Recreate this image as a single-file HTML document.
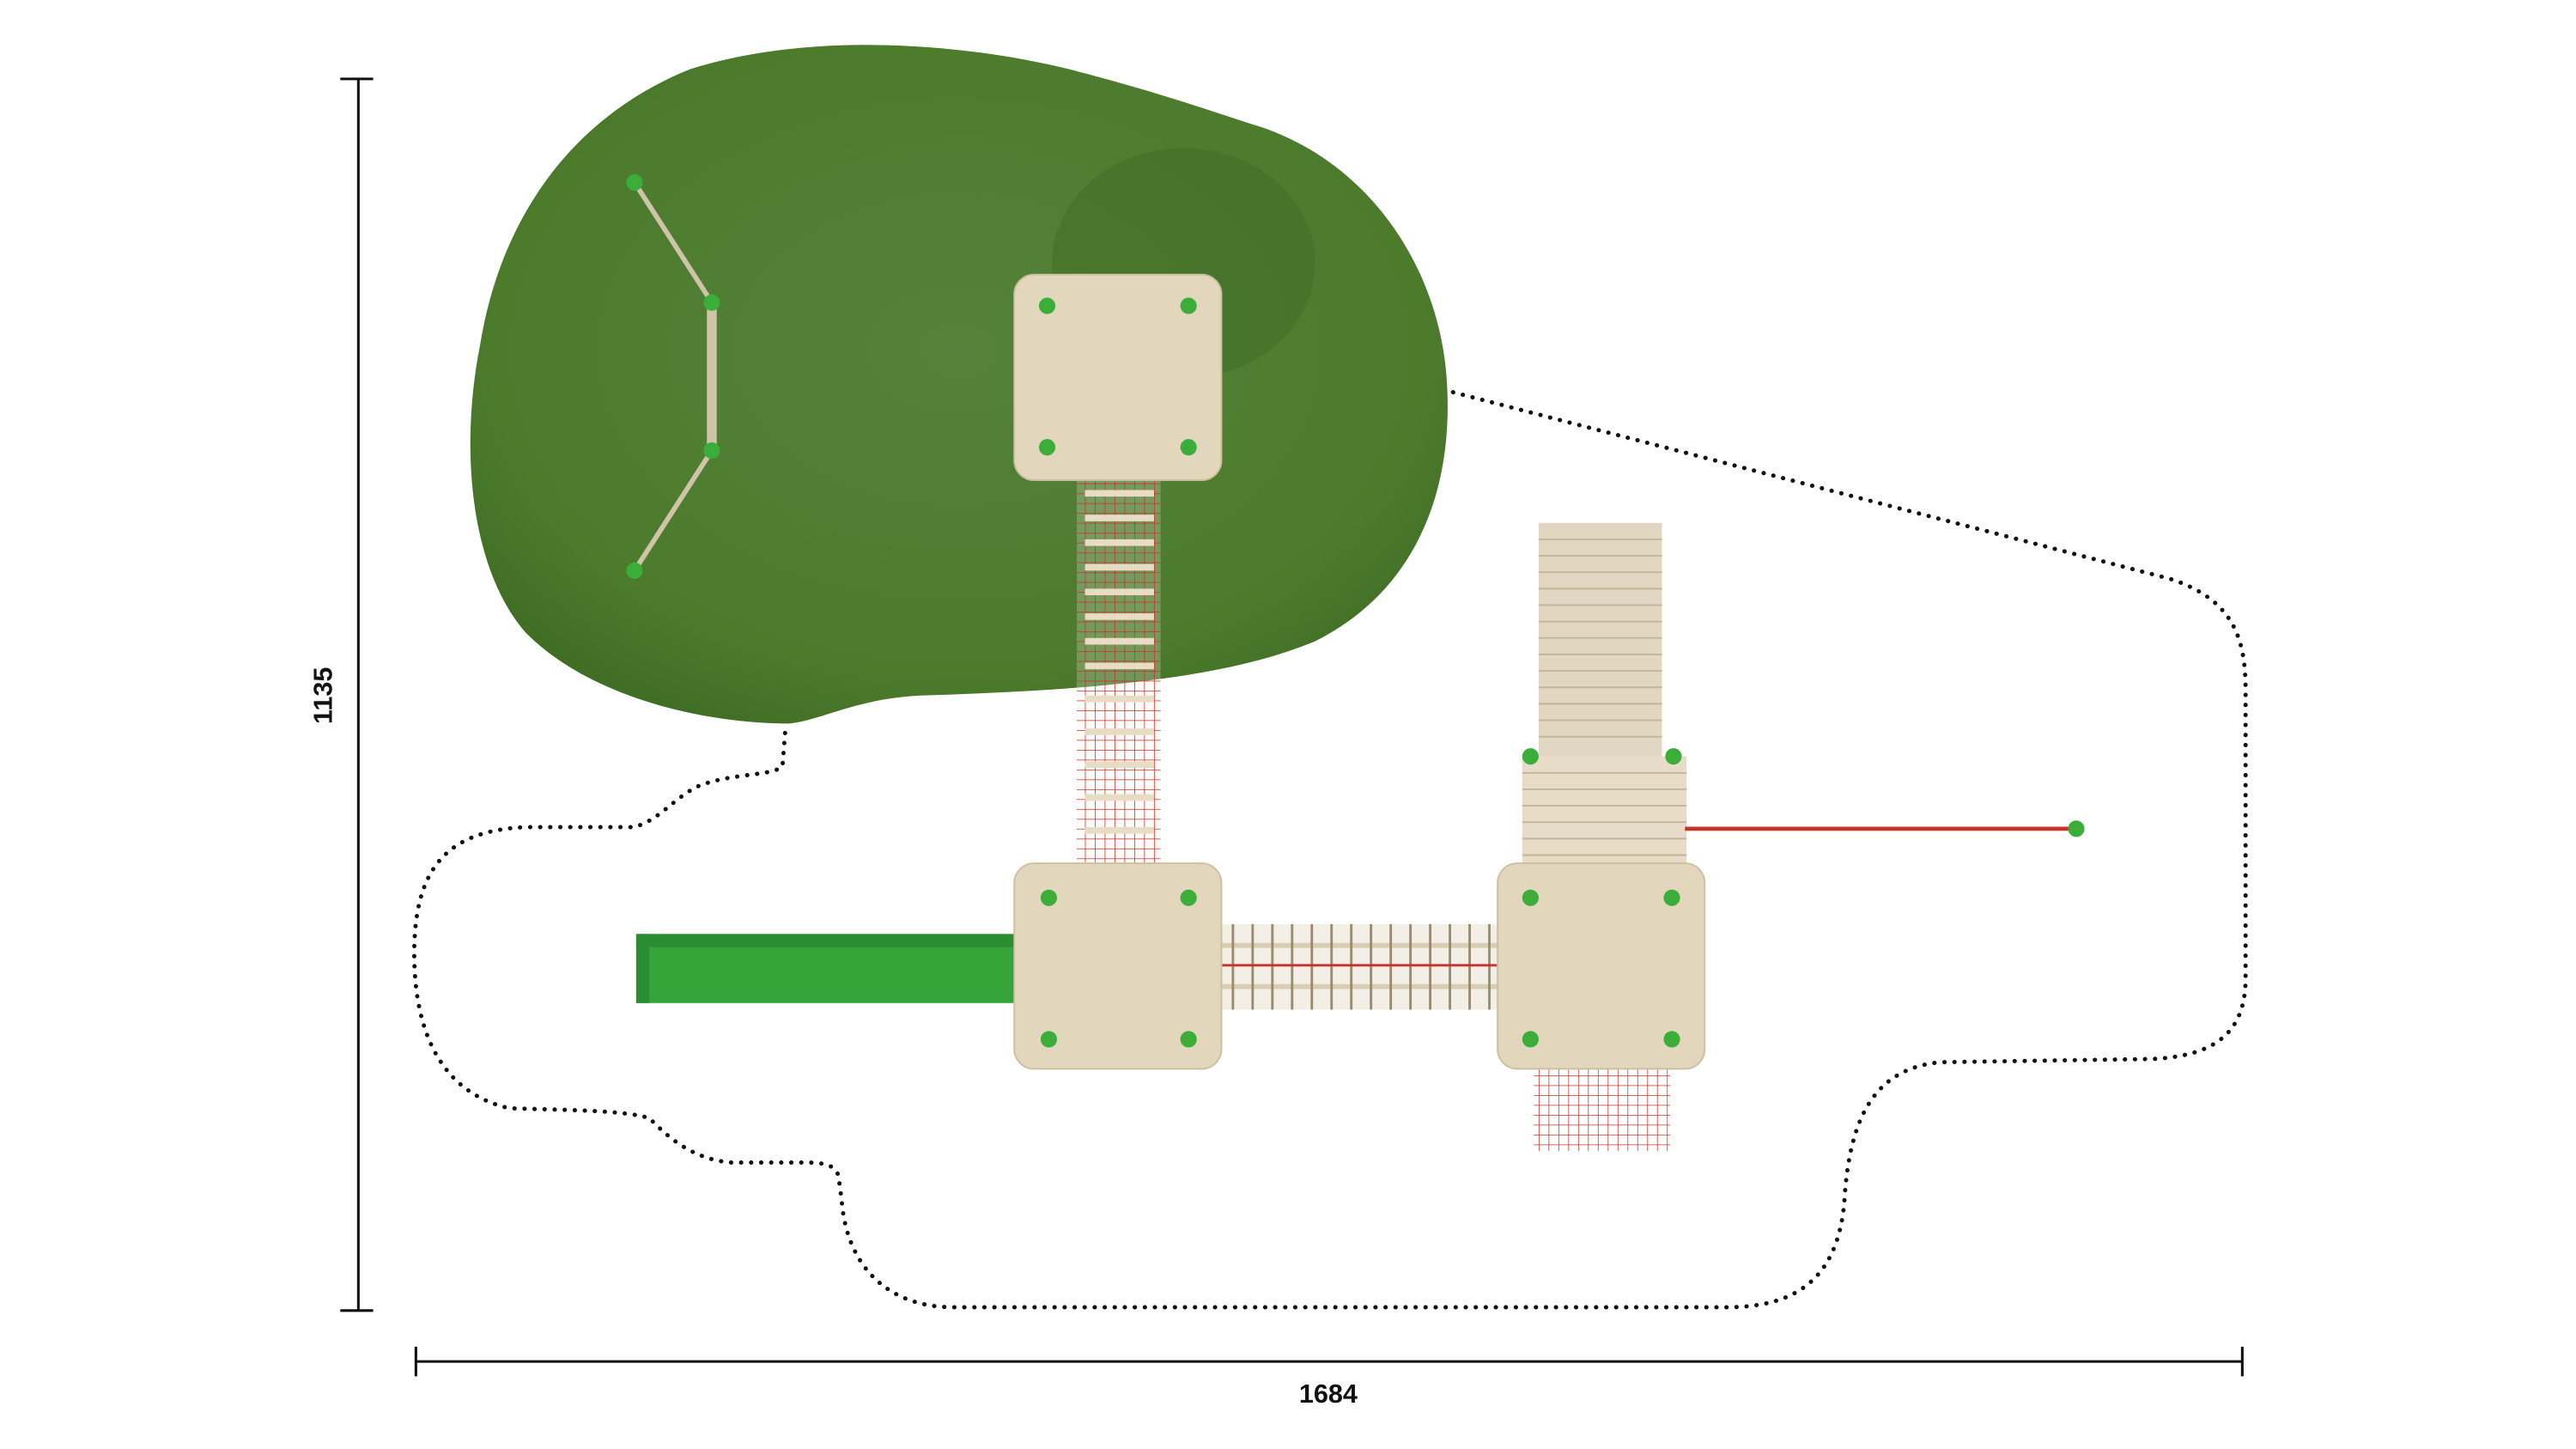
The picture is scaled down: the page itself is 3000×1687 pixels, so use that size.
<!DOCTYPE html>
<html><head><meta charset="utf-8"><style>
html,body{margin:0;padding:0;background:#fff;width:3000px;height:1687px;overflow:hidden}
svg{display:block}
text{font-family:"Liberation Sans",sans-serif;font-weight:bold;fill:#111}
</style></head><body>
<svg width="3000" height="1687" viewBox="0 0 1567 881.2" preserveAspectRatio="none" xmlns="http://www.w3.org/2000/svg">
<defs>
<radialGradient id="g" cx="0.5" cy="0.45" r="0.6">
<stop offset="0" stop-color="#55823a"/><stop offset="0.8" stop-color="#4c7b2c"/><stop offset="1" stop-color="#416e25"/>
</radialGradient>
<pattern id="net" width="6" height="6" patternUnits="userSpaceOnUse">
<path d="M0 0H6M0 0V6" stroke="#c8322a" stroke-width="0.8" fill="none"/>
</pattern>
</defs>
<g stroke="#111" stroke-width="1.6" fill="none">
<path d="M218 48V797M207 48H227M207 797H227"/>
<path d="M253 828H1364M253 819V837M1364 819V837"/>
</g>
<text x="0" y="0" font-size="16" text-anchor="middle" transform="translate(202 423) rotate(-90)">1135</text>
<text x="808" y="853" font-size="16" text-anchor="middle">1684</text>
<path d="M878 237 L1320 352 C1360 365 1366 390 1366 420 L1366 595 C1366 630 1345 642 1310 644 L1180 646 C1140 650 1125 680 1122 730 C1118 780 1090 795 1050 795 L580 795 C540 795 515 770 512 730 L510 715 C508 708 500 707 490 707 L445 707 C420 705 405 690 395 680 C380 675 340 675 310 674 C270 665 252 630 252 580 C252 530 270 505 320 503 L385 503 C400 500 410 485 425 478 C445 470 470 472 476 466 L478 440"
 fill="none" stroke="#111" stroke-width="2.6" stroke-dasharray="0.1 6" stroke-linecap="round"/>
<path d="M480 440 C430 440 360 425 320 385 C285 345 280 270 292 210 C305 130 350 70 420 42 C490 20 580 25 650 42 C700 55 720 62 760 75 C830 95 875 160 880 230 C885 300 860 360 800 390 C740 415 650 420 560 423 C520 425 500 438 480 440 Z" fill="url(#g)"/>
<ellipse cx="720" cy="160" rx="80" ry="70" fill="#3c6a22" opacity="0.4"/>
<g stroke="#cfc3a8" stroke-width="3" fill="none">
<path d="M386 111 L433 184 M433 274 L386 347"/>
<path d="M433 184 V274" stroke-width="6"/>
</g>
<g fill="#3bae3a">
<circle cx="386" cy="111" r="5"/><circle cx="433" cy="184" r="5"/><circle cx="433" cy="274" r="5"/><circle cx="386" cy="347" r="5"/>
</g>
<rect x="655" y="292" width="51" height="233" fill="#f4efe6" opacity="0.25"/>
<rect x="655" y="292" width="51" height="233" fill="url(#net)"/>
<g stroke="#e8dcc4" stroke-width="4">
<path d="M660 300H702M660 315H702M660 330H702M660 345H702M660 360H702M660 375H702M660 390H702M660 405H702M660 425H702M660 445H702M660 465H702M660 485H702M660 505H702"/>
</g>
<rect x="743" y="562" width="168" height="52" fill="#f3efe6"/>
<g stroke="#d9cdb3" stroke-width="3">
<path d="M743 575H911M743 600H911"/>
</g>
<g stroke="#9a8a70" stroke-width="1.5">
<path d="M750 562V614M762 562V614M774 562V614M786 562V614M798 562V614M810 562V614M822 562V614M834 562V614M846 562V614M858 562V614M870 562V614M882 562V614M894 562V614M906 562V614"/>
</g>
<path d="M743 587H911" stroke="#c8322a" stroke-width="1.5"/>
<rect x="387" y="568" width="232" height="42" fill="#35a53a"/>
<rect x="387" y="568" width="232" height="8" fill="#2b8d31"/>
<rect x="387" y="568" width="8" height="42" fill="#2b8d31"/>
<rect x="936" y="318" width="75" height="145" fill="#e0d6c2"/>
<g stroke="#c2b59a" stroke-width="1">
<path d="M936 328H1011M936 338H1011M936 348H1011M936 358H1011M936 368H1011M936 378H1011M936 388H1011M936 398H1011M936 408H1011M936 418H1011M936 428H1011M936 438H1011M936 448H1011"/>
</g>
<rect x="926" y="460" width="100" height="70" fill="#e6dcc8"/>
<g stroke="#c2b59a" stroke-width="1">
<path d="M926 470H1026M926 480H1026M926 490H1026M926 500H1026M926 510H1026M926 520H1026"/>
</g>
<path d="M1025 504H1263" stroke="#c8322a" stroke-width="2.5"/>
<circle cx="1263" cy="504" r="5" fill="#3bae3a"/>
<rect x="933" y="650" width="83" height="50" fill="url(#net)"/>
<g fill="#e2d6bd" stroke="#cdbf9f" stroke-width="1">
<rect x="617" y="167" width="126" height="125" rx="12"/>
<rect x="617" y="525" width="126" height="125" rx="12"/>
<rect x="911" y="525" width="126" height="125" rx="12"/>
</g>
<g fill="#3bae3a">
<circle cx="637" cy="186" r="5"/><circle cx="723" cy="186" r="5"/><circle cx="637" cy="272" r="5"/><circle cx="723" cy="272" r="5"/>
<circle cx="638" cy="546" r="5"/><circle cx="723" cy="546" r="5"/><circle cx="638" cy="632" r="5"/><circle cx="723" cy="632" r="5"/>
<circle cx="931" cy="546" r="5"/><circle cx="1017" cy="546" r="5"/><circle cx="931" cy="632" r="5"/><circle cx="1017" cy="632" r="5"/>
<circle cx="931" cy="460" r="5"/><circle cx="1018" cy="460" r="5"/>
</g>
</svg>
</body></html>
